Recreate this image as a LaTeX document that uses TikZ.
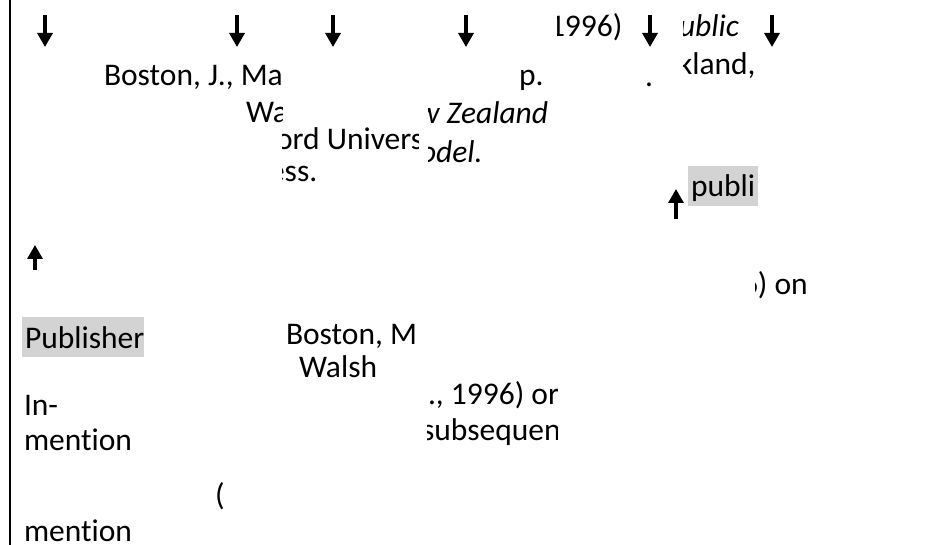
\documentclass[tikz,border=0pt]{standalone}
\usepackage{fontspec}
\setmainfont{Carlito}[Ligatures=NoCommon]
\usetikzlibrary{arrows.meta}
\definecolor{hilite}{RGB}{211,211,211}
\tikzset{
  frag/.style={anchor=base west, inner sep=0pt, outer sep=0pt, font=\fontsize{31.5}{38}\selectfont},
  ifrag/.style={frag, font=\fontsize{31.5}{38}\selectfont\itshape},
  marked/.style={fill=hilite},
  pointer/.style={line width=3.2pt, -{Triangle[width=15pt,length=14pt]}},
  rule/.style={line width=2pt}
}
\begin{document}
\begin{tikzpicture}[x=1pt,y=-1pt]
\useasboundingbox (0,0) rectangle (935,545);
\fill[white] (0,0) rectangle (935,545);

% left margin rule
\coordinate (r0) at (10,0);
\coordinate (r1) at (10,545);
\draw[rule] (r0) -- (r1);

% pointers along the top
\foreach \i/\x in {1/45,2/237,3/333,4/466,5/650,6/772}{
  \coordinate (d\i a) at (\x,15);
  \coordinate (d\i b) at (\x,47);
  \draw[pointer] (d\i a) -- (d\i b);
}
% upward pointers
\coordinate (u1a) at (35,270);
\coordinate (u1b) at (35,245);
\draw[pointer] (u1a) -- (u1b);
\coordinate (u2a) at (676,219);
\coordinate (u2b) at (676,189);
\draw[pointer] (u2a) -- (u2b);

% reference fragments, each cut to its cell
\begin{scope}
  \clip (0,0) rectangle (282,545);
  \node[frag] (t1) at (104,86) {Boston, J., Ma};
  \node[frag] (t2) at (246,123) {Wa};
\end{scope}
\begin{scope}
  \clip (282,0) rectangle (418,545);
  \node[frag] (t3) at (276,150) {ord Univers};
  \node[frag] (t4) at (269,182) {ess.};
\end{scope}
\begin{scope}
  \clip (428,0) rectangle (600,545);
  \node[ifrag] (t5) at (417,124) {w Zealand};
  \node[ifrag] (t6) at (420,163) {odel.};
\end{scope}
\node[frag] (t7) at (519,86) {p.};
\begin{scope}
  \clip (557,0) rectangle (640,545);
  \node[frag] (t8) at (549,37) {1996)};
\end{scope}
\node[frag] (t9) at (645,87) {.};
\begin{scope}
  \clip (683,0) rectangle (935,545);
  \node[ifrag] (t10) at (679,37) {ublic};
  \node[frag] (t11) at (678,75) {kland,};
\end{scope}
\fill[marked] (688,166) rectangle (758,206);
\node[frag] (t12) at (691,197) {publi};
\begin{scope}
  \clip (755,0) rectangle (935,545);
  \node[frag] (t13) at (742,295) {6) on};
\end{scope}
\fill[marked] (22,317) rectangle (144,357);
\node[frag] (t14) at (25,349) {Publisher};
\begin{scope}
  \clip (0,0) rectangle (418,545);
  \node[frag] (t15) at (286,345) {Boston, M};
  \node[frag] (t16) at (299,378) {Walsh};
\end{scope}
\begin{scope}
  \clip (427,0) rectangle (557,545);
  \node[frag] (t17) at (428,405) {., 1996) or};
  \node[frag] (t18) at (422,440) {subsequen};
\end{scope}
\node[frag] (t19) at (24,415) {In-};
\node[frag] (t20) at (24,450) {mention};
\node[frag] (t21) at (215,505) {(};
\node[frag] (t22) at (24,541) {mention};
\end{tikzpicture}
\end{document}
